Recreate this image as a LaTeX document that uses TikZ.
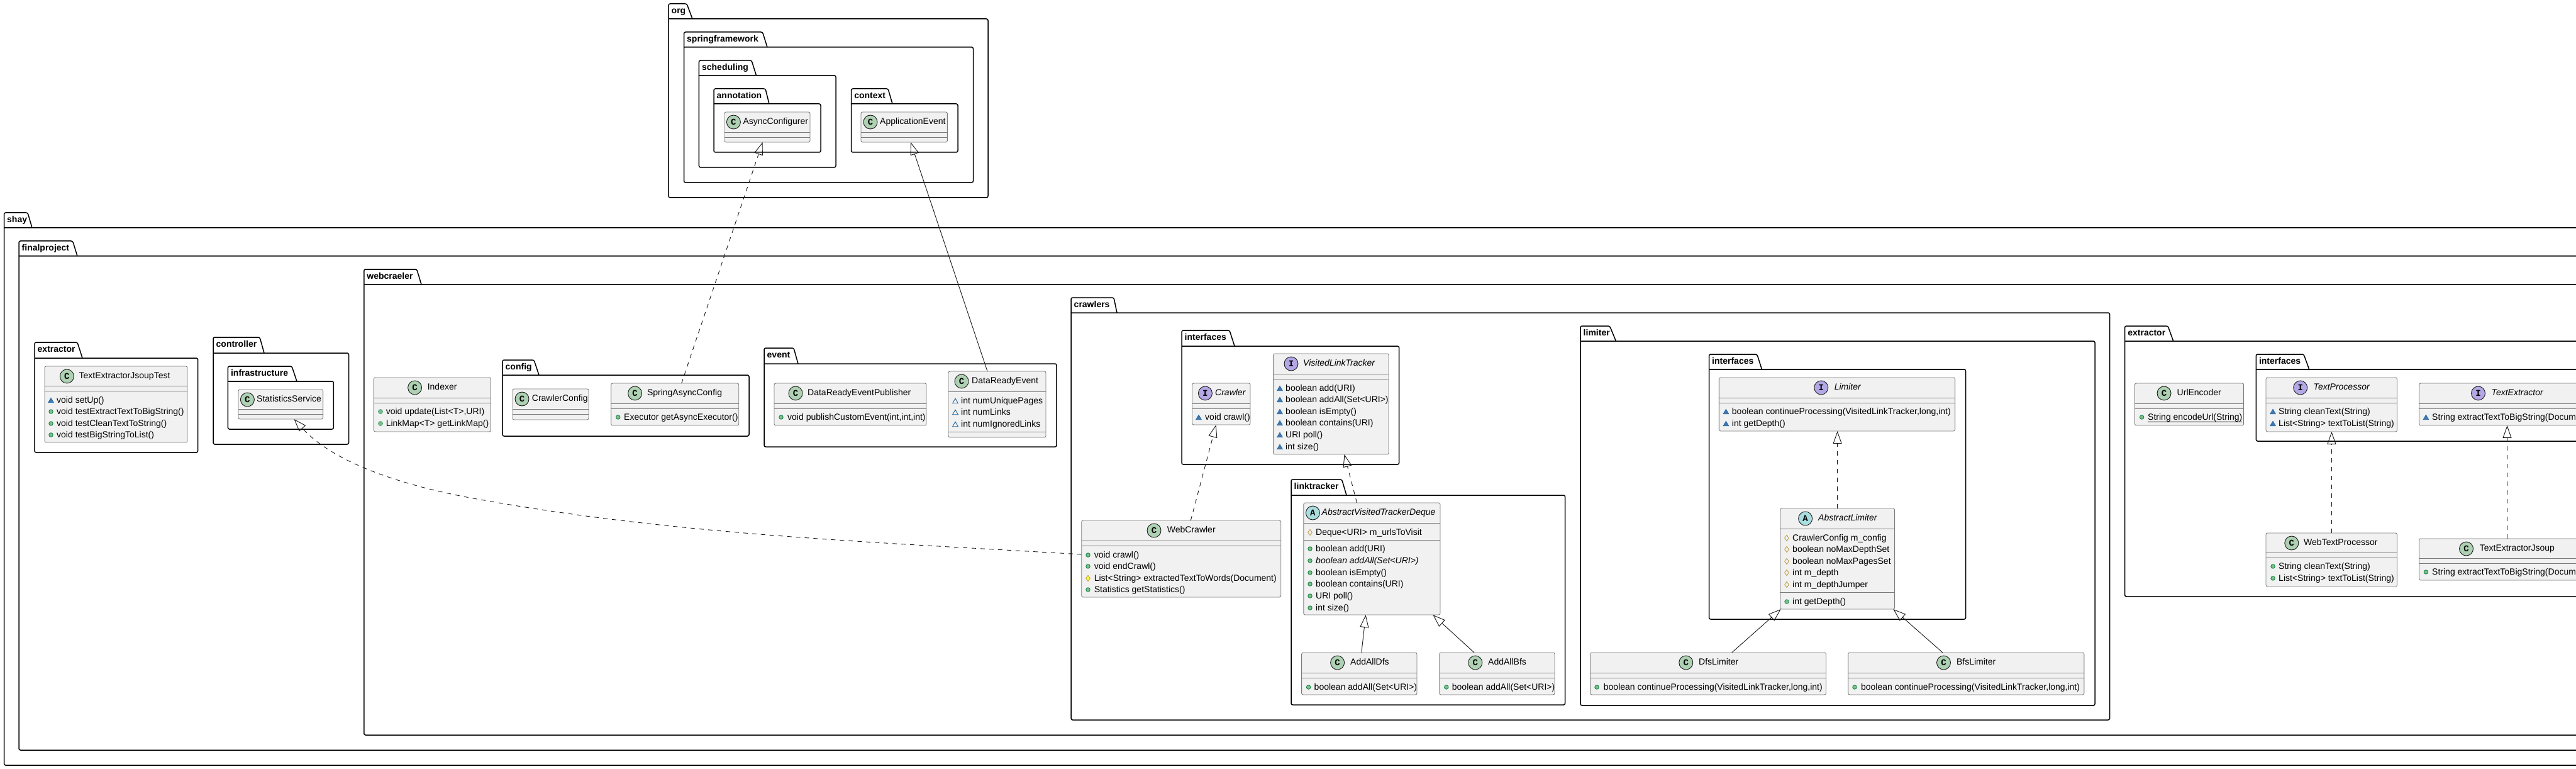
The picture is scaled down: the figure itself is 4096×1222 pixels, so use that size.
\documentclass[tikz,border=0pt]{standalone}
\usepackage{fontspec}
\usepackage{tikz}
\usetikzlibrary{arrows.meta, shapes.geometric}
\setmainfont{Liberation Sans}
\newfontfamily\iconfont{Liberation Mono}

\definecolor{classfill}{HTML}{F1F1F1}
\definecolor{classline}{HTML}{7A7A7A}
\definecolor{lineink}{HTML}{181818}
\definecolor{iconc}{HTML}{ADD1B2}
\definecolor{iconi}{HTML}{B4A7E5}
\definecolor{icona}{HTML}{A9DCDF}
\definecolor{pubfill}{HTML}{84BE84}
\definecolor{publine}{HTML}{038048}
\definecolor{pkgfill}{HTML}{4177AF}
\definecolor{pkgline}{HTML}{1963A0}
\definecolor{protfill}{HTML}{FFFF44}
\definecolor{protline}{HTML}{B38D22}

% folder: id, label, left, tab top, tab right top, tab right bottom, body top, right, bottom
\newcommand{\pkgbox}[9]{
    \draw [pkgframe] (#3,#7) [rounded corners=2.5pt] -- (#3,#4) -- (#5,#4) [sharp corners] -- (#6,#7);
    \draw [pkgframe] (#3,#7) [rounded corners=2.5pt] -- (#8,#7) -- (#8,#9) -- (#3,#9) -- (#3,#7);
    \node [pkgname] (#1) at ({#3+4.5},{#4+12}) {#2};
}
% class frame: id, left, top, right, bottom, first rule, second rule
\newcommand{\classbox}[7]{
    \node [classframe, minimum width=#4pt-#2pt, minimum height=#5pt-#3pt] (#1) at ({(#2+#4)/2},{(#3+#5)/2}) {};
    \draw [divider] (#2,#6) -- (#4,#6);
    \draw [divider] (#2,#7) -- (#4,#7);
}
% class head: id, letter, icon x, name x, top, name
\newcommand{\classhead}[6]{
    \node [icon#2] (#1icon) at (#3,{#5+16}) {#2};
    \node [title#2] (#1title) at (#4,{#5+16}) {#6};
}
% member row: id, row, marker, marker x, text x, y, text
\newcommand{\member}[7]{
    \node [#3] (#1mark#2) at (#4,#6) {};
    \node [membertext] (#1text#2) at (#5,#6) {#7};
}
% static member, the rule sits just under the baseline
\newcommand{\staticline}[1]{\setbox0\hbox{#1}\rlap{\rule[-3.2pt]{\wd0}{0.9pt}}\box0}

\begin{document}
\begin{tikzpicture}[x=1pt, y=-1pt]
    % Define styles
    \tikzstyle{pkgframe} = [draw=black, line width=1.5pt]
    \tikzstyle{pkgname} = [anchor=west, inner sep=0pt, font=\fontsize{14pt}{16pt}\selectfont\bfseries, text height=10pt, text depth=3pt]
    \tikzstyle{classframe} = [rectangle, draw=classline, fill=classfill, line width=0.9pt, rounded corners=2.5pt, inner sep=0pt, outer sep=0pt]
    \tikzstyle{divider} = [draw=classline, line width=0.9pt]
    \tikzstyle{iconbase} = [circle, draw=lineink, line width=0.9pt, minimum size=22pt, inner sep=0pt, font=\iconfont\fontsize{14pt}{14pt}\selectfont\bfseries]
    \tikzstyle{iconC} = [iconbase, fill=iconc]
    \tikzstyle{iconI} = [iconbase, fill=iconi]
    \tikzstyle{iconA} = [iconbase, fill=icona]
    \tikzstyle{titleC} = [anchor=west, inner sep=0pt, font=\fontsize{14pt}{16pt}\selectfont, text height=10pt, text depth=3pt]
    \tikzstyle{titleI} = [titleC, font=\fontsize{14pt}{16pt}\selectfont\itshape]
    \tikzstyle{titleA} = [titleI]
    \tikzstyle{membertext} = [titleC, yshift=-1pt]
    \tikzstyle{pub} = [circle, draw=publine, fill=pubfill, line width=0.8pt, minimum size=6.5pt, inner sep=0pt]
    \tikzstyle{pkgm} = [regular polygon, regular polygon sides=3, draw=pkgline, fill=pkgfill, line width=0.6pt, minimum size=10pt, inner sep=0pt, yshift=-1.2pt]
    \tikzstyle{pkgf} = [pkgm, fill=none, line width=0.9pt]
    \tikzstyle{prot} = [diamond, draw=protline, fill=protfill, line width=0.7pt, minimum width=7pt, minimum height=9.5pt, inner sep=0pt]
    \tikzstyle{protf} = [prot, fill=none]
    \tikzstyle{extends} = [draw=lineink, line width=0.9pt, -{Triangle[open, length=20pt, width=14pt]}]
    \tikzstyle{realizes} = [extends, dash pattern=on 7pt off 7pt]

    \useasboundingbox (0,0) rectangle (4096,1222);
    \clip (0,0) rectangle (4096,1222);

    % Packages
    \pkgbox{org}{org}{1063}{6}{1092}{1101}{30}{1571}{314}
    \pkgbox{springframework}{springframework}{1087.5}{51}{1212.5}{1220}{75}{1547.5}{290}
    \pkgbox{scheduling}{scheduling}{1111.4}{96}{1195}{1202.5}{120}{1329}{266}
    \pkgbox{annotation}{annotation}{1135}{141}{1217}{1223}{165}{1305}{242}
    \pkgbox{context}{context}{1353.6}{141}{1412}{1419}{165}{1523}{242}
    \pkgbox{shay}{shay}{6.5}{338}{44}{51}{362}{4130}{1216}
    \pkgbox{finalproject}{finalproject}{30}{383}{115.6}{123}{407}{4130}{1192}
    \pkgbox{testextractor}{extractor}{55}{544}{123}{131}{569}{314.6}{719}
    \pkgbox{controller}{controller}{339}{536}{413}{420}{561}{554.5}{706}
    \pkgbox{infrastructure}{infrastructure}{362.4}{582}{464}{472}{606}{530.4}{682}
    \pkgbox{webcraeler}{webcraeler}{578.75}{428}{662.7}{670}{452}{4130}{1168}
    \pkgbox{config}{config}{799}{572}{849}{857}{596}{1191}{693}
    \pkgbox{event}{event}{1215}{553}{1262}{1269}{578}{1680}{710}
    \pkgbox{crawlers}{crawlers}{1703}{473}{1771}{1776}{497}{3354.5}{1144}
    \pkgbox{crawlerifs}{interfaces}{1879}{525}{1955}{1963}{550}{2224.6}{738}
    \pkgbox{linktracker}{linktracker}{2053}{762}{2133.6}{2141}{787}{2488.6}{1120}
    \pkgbox{limiter}{limiter}{2513}{518}{2559.5}{2569.4}{542}{3331}{1121}
    \pkgbox{limiterifs}{interfaces}{2717.5}{563}{2793.8}{2801.4}{587}{3125.6}{984}
    \pkgbox{extractor}{extractor}{3378.6}{518}{3447}{3455.7}{542}{4130}{948}
    \pkgbox{extractorifs}{interfaces}{3587.3}{563}{3663}{3671.7}{587}{4130}{701}

    % Spring classes
    \classbox{asyncconfigurer}{1152}{178}{1288}{226}{210}{218}
    \classhead{asyncconfigurer}{C}{1166.4}{1181.4}{178}{AsyncConfigurer}
    \classbox{applicationevent}{1369}{178}{1506.4}{226}{210}{218}
    \classhead{applicationevent}{C}{1384}{1399}{178}{ApplicationEvent}

    % Test and controller classes
    \classbox{extractortest}{71}{582}{298}{703}{613}{621}
    \classhead{extractortest}{C}{106.4}{125.5}{582}{TextExtractorJsoupTest}
    \member{extractortest}{1}{pkgm}{81}{90}{636}{void setUp()}
    \member{extractortest}{2}{pub}{81}{90}{654}{void testExtractTextToBigString()}
    \member{extractortest}{3}{pub}{81}{90}{673}{void testCleanTextToString()}
    \member{extractortest}{4}{pub}{81}{90}{691}{void testBigStringToList()}
    \classbox{statistics}{379}{619}{513.6}{666}{650}{658}
    \classhead{statistics}{C}{393.4}{408}{619}{StatisticsService}

    % Webcraeler classes
    \classbox{indexer}{594.4}{600}{780.5}{686}{632}{640}
    \classhead{indexer}{C}{659.6}{679.6}{600}{Indexer}
    \member{indexer}{1}{pub}{605}{613.6}{654}{void update(List<T>,URI)}
    \member{indexer}{2}{pub}{605}{613.6}{673}{LinkMap<T> getLinkMap()}
    \classbox{crawlerconfig}{815}{618}{936}{667}{650}{658}
    \classhead{crawlerconfig}{C}{830}{845.7}{618}{CrawlerConfig}
    \classbox{springasync}{971.6}{609}{1174.7}{676}{641}{649}
    \classhead{springasync}{C}{1009.6}{1028.8}{609}{SpringAsyncConfig}
    \member{springasync}{1}{pub}{982.8}{992}{663}{Executor getAsyncExecutor()}
    \classbox{publisher}{1231}{609}{1473}{676}{641}{649}
    \classhead{publisher}{C}{1265}{1284}{609}{DataReadyEventPublisher}
    \member{publisher}{1}{pub}{1242}{1252}{663}{void publishCustomEvent(int,int,int)}
    \classbox{readyevent}{1508}{590}{1663}{695}{622}{686}
    \classhead{readyevent}{C}{1529}{1545}{590}{DataReadyEvent}
    \member{readyevent}{1}{pkgf}{1519}{1528}{637}{int numUniquePages}
    \member{readyevent}{2}{pkgf}{1519}{1528}{655}{int numLinks}
    \member{readyevent}{3}{pkgf}{1519}{1528}{674}{int numIgnoredLinks}

    % Crawlers
    \classbox{crawler}{1895.7}{609}{1988}{675}{641}{649}
    \classhead{crawler}{I}{1916.4}{1932}{609}{Crawler}
    \member{crawler}{1}{pkgm}{1906}{1916}{663}{void crawl()}
    \classbox{visitedtracker}{2024.6}{562}{2208}{722}{594}{602}
    \classhead{visitedtracker}{I}{2053}{2072}{562}{VisitedLinkTracker}
    \member{visitedtracker}{1}{pkgm}{2035}{2044}{617}{boolean add(URI)}
    \member{visitedtracker}{2}{pkgm}{2035}{2044}{635}{boolean addAll(Set<URI>)}
    \member{visitedtracker}{3}{pkgm}{2035}{2044}{654}{boolean isEmpty()}
    \member{visitedtracker}{4}{pkgm}{2035}{2044}{672}{boolean contains(URI)}
    \member{visitedtracker}{5}{pkgm}{2035}{2044}{691}{URI poll()}
    \member{visitedtracker}{6}{pkgm}{2035}{2044}{710}{int size()}
    \classbox{webcrawler}{1719.7}{827}{2036.7}{949}{859}{867}
    \classhead{webcrawler}{C}{1835}{1855.7}{827}{WebCrawler}
    \member{webcrawler}{1}{pub}{1730}{1739.6}{882}{void crawl()}
    \member{webcrawler}{2}{pub}{1730}{1739.6}{900}{void endCrawl()}
    \member{webcrawler}{3}{prot}{1730}{1739.6}{919}{List<String> extractedTextToWords(Document)}
    \member{webcrawler}{4}{pub}{1730}{1739.6}{937}{Statistics getStatistics()}
    \classbox{trackerdeque}{2072.8}{799}{2290}{977}{831}{858}
    \classhead{trackerdeque}{A}{2087.4}{2101.5}{799}{AbstractVisitedTrackerDeque}
    \member{trackerdeque}{1}{protf}{2083}{2092}{846}{Deque<URI> m\_urlsToVisit}
    \member{trackerdeque}{2}{pub}{2083}{2092}{872}{boolean add(URI)}
    \member{trackerdeque}{3}{pub}{2083}{2092}{891}{\itshape boolean addAll(Set<URI>)}
    \member{trackerdeque}{4}{pub}{2083}{2092}{910}{boolean isEmpty()}
    \member{trackerdeque}{5}{pub}{2083}{2092}{928}{boolean contains(URI)}
    \member{trackerdeque}{6}{pub}{2083}{2092}{947}{URI poll()}
    \member{trackerdeque}{7}{pub}{2083}{2092}{966}{int size()}
    \classbox{addalldfs}{2069.6}{1037}{2253}{1104}{1069}{1077}
    \classhead{addalldfs}{C}{2126.6}{2147}{1037}{AddAllDfs}
    \member{addalldfs}{1}{pub}{2080.6}{2089.5}{1092}{boolean addAll(Set<URI>)}
    \classbox{addallbfs}{2288.8}{1037}{2472}{1104}{1069}{1077}
    \classhead{addallbfs}{C}{2345.8}{2366}{1037}{AddAllBfs}
    \member{addallbfs}{1}{pub}{2299.8}{2308.7}{1092}{boolean addAll(Set<URI>)}

    % Limiters
    \classbox{limiteriface}{2733.4}{600}{3108.6}{685}{632}{640}
    \classhead{limiteriface}{I}{2895.8}{2916.6}{600}{Limiter}
    \member{limiteriface}{1}{pkgm}{2744.4}{2753.7}{654}{boolean continueProcessing(VisitedLinkTracker,long,int)}
    \member{limiteriface}{2}{pkgm}{2744.4}{2753.7}{673}{int getDepth()}
    \classbox{abstractlimiter}{2830.5}{808}{3012.6}{968}{840}{941}
    \classhead{abstractlimiter}{A}{2870.6}{2891}{808}{AbstractLimiter}
    \member{abstractlimiter}{1}{protf}{2841}{2850}{855}{CrawlerConfig m\_config}
    \member{abstractlimiter}{2}{protf}{2841}{2850}{873}{boolean noMaxDepthSet}
    \member{abstractlimiter}{3}{protf}{2841}{2850}{892}{boolean noMaxPagesSet}
    \member{abstractlimiter}{4}{protf}{2841}{2850}{910}{int m\_depth}
    \member{abstractlimiter}{5}{protf}{2841}{2850}{929}{int m\_depthJumper}
    \member{abstractlimiter}{6}{pub}{2841}{2850}{956}{int getDepth()}
    \classbox{dfslimiter}{2528.8}{1037}{2903.5}{1104}{1069}{1077}
    \classhead{dfslimiter}{C}{2680.8}{2701}{1037}{DfsLimiter}
    \member{dfslimiter}{1}{pub}{2539}{2549.7}{1092}{boolean continueProcessing(VisitedLinkTracker,long,int)}
    \classbox{bfslimiter}{2938.6}{1037}{3313.8}{1104}{1069}{1077}
    \classhead{bfslimiter}{C}{3090.5}{3110.8}{1037}{BfsLimiter}
    \member{bfslimiter}{1}{pub}{2949}{2958.9}{1092}{boolean continueProcessing(VisitedLinkTracker,long,int)}

    % Extractors
    \classbox{urlencoder}{3394.5}{609}{3567.6}{676}{641}{649}
    \classhead{urlencoder}{C}{3441}{3461.5}{609}{UrlEncoder}
    \member{urlencoder}{1}{pub}{3405.6}{3415}{663}{\staticline{String encodeUrl(String)}}
    \classbox{textprocessor}{3603}{600}{3811.5}{686}{632}{640}
    \classhead{textprocessor}{I}{3657.7}{3678.5}{600}{TextProcessor}
    \member{textprocessor}{1}{pkgm}{3614}{3623}{654}{String cleanText(String)}
    \member{textprocessor}{2}{pkgm}{3614}{3623}{673}{List<String> textToList(String)}
    \classbox{textextractor}{3846.5}{609}{4126}{676}{641}{649}
    \classhead{textextractor}{I}{3940.5}{3961.5}{609}{TextExtractor}
    \member{textextractor}{1}{pkgm}{3857.4}{3867}{663}{String extractTextToBigString(Document)}
    \classbox{webprocessor}{3603}{847}{3811.5}{932}{878}{886}
    \classhead{webprocessor}{C}{3643.8}{3663}{847}{WebTextProcessor}
    \member{webprocessor}{1}{pub}{3614}{3623}{900}{String cleanText(String)}
    \member{webprocessor}{2}{pub}{3614}{3623}{919}{List<String> textToList(String)}
    \classbox{extractorjsoup}{3846.5}{856}{4126}{922}{887}{895}
    \classhead{extractorjsoup}{C}{3921.5}{3942.7}{856}{TextExtractorJsoup}
    \member{extractorjsoup}{1}{pub}{3857.4}{3867}{909}{String extractTextToBigString(Document)}

    % Arrows
    \draw [realizes] ([xshift=112.1pt]springasync.north west) -- ([xshift=60.5pt]asyncconfigurer.south west);
    \draw [extends] ([xshift=62pt]readyevent.north west) -- ([xshift=79pt]applicationevent.south west);
    \draw [realizes] ([yshift=-54pt]webcrawler.north west) .. controls (1403,862) and (1086,851) .. (770,795) .. controls (650,775) and (533,738) .. ([xshift=88.5pt]statistics.south west);
    \draw [realizes] ([xshift=173.6pt]webcrawler.north west) -- ([xshift=37.9pt]crawler.south west);
    \draw [realizes] ([xshift=84.7pt]trackerdeque.north west) -- ([xshift=112.9pt]visitedtracker.south west);
    \draw [extends] ([xshift=95.2pt]addalldfs.north west) -- ([xshift=98.8pt]trackerdeque.south west);
    \draw [extends] ([xshift=55.2pt]addallbfs.north west) -- ([xshift=205.5pt]trackerdeque.south west);
    \draw [realizes] ([xshift=91.1pt]abstractlimiter.north west) -- ([xshift=188.2pt]limiteriface.south west);
    \draw [extends] ([xshift=224.9pt]dfslimiter.north west) -- ([xshift=1.1pt]abstractlimiter.south west);
    \draw [extends] ([xshift=150.3pt]bfslimiter.north west) -- ([xshift=179.9pt]abstractlimiter.south west);
    \draw [realizes] ([xshift=104.4pt]webprocessor.north west) -- ([xshift=104.4pt]textprocessor.south west);
    \draw [realizes] ([xshift=140pt]extractorjsoup.north west) -- ([xshift=140pt]textextractor.south west);
\end{tikzpicture}
\end{document}
